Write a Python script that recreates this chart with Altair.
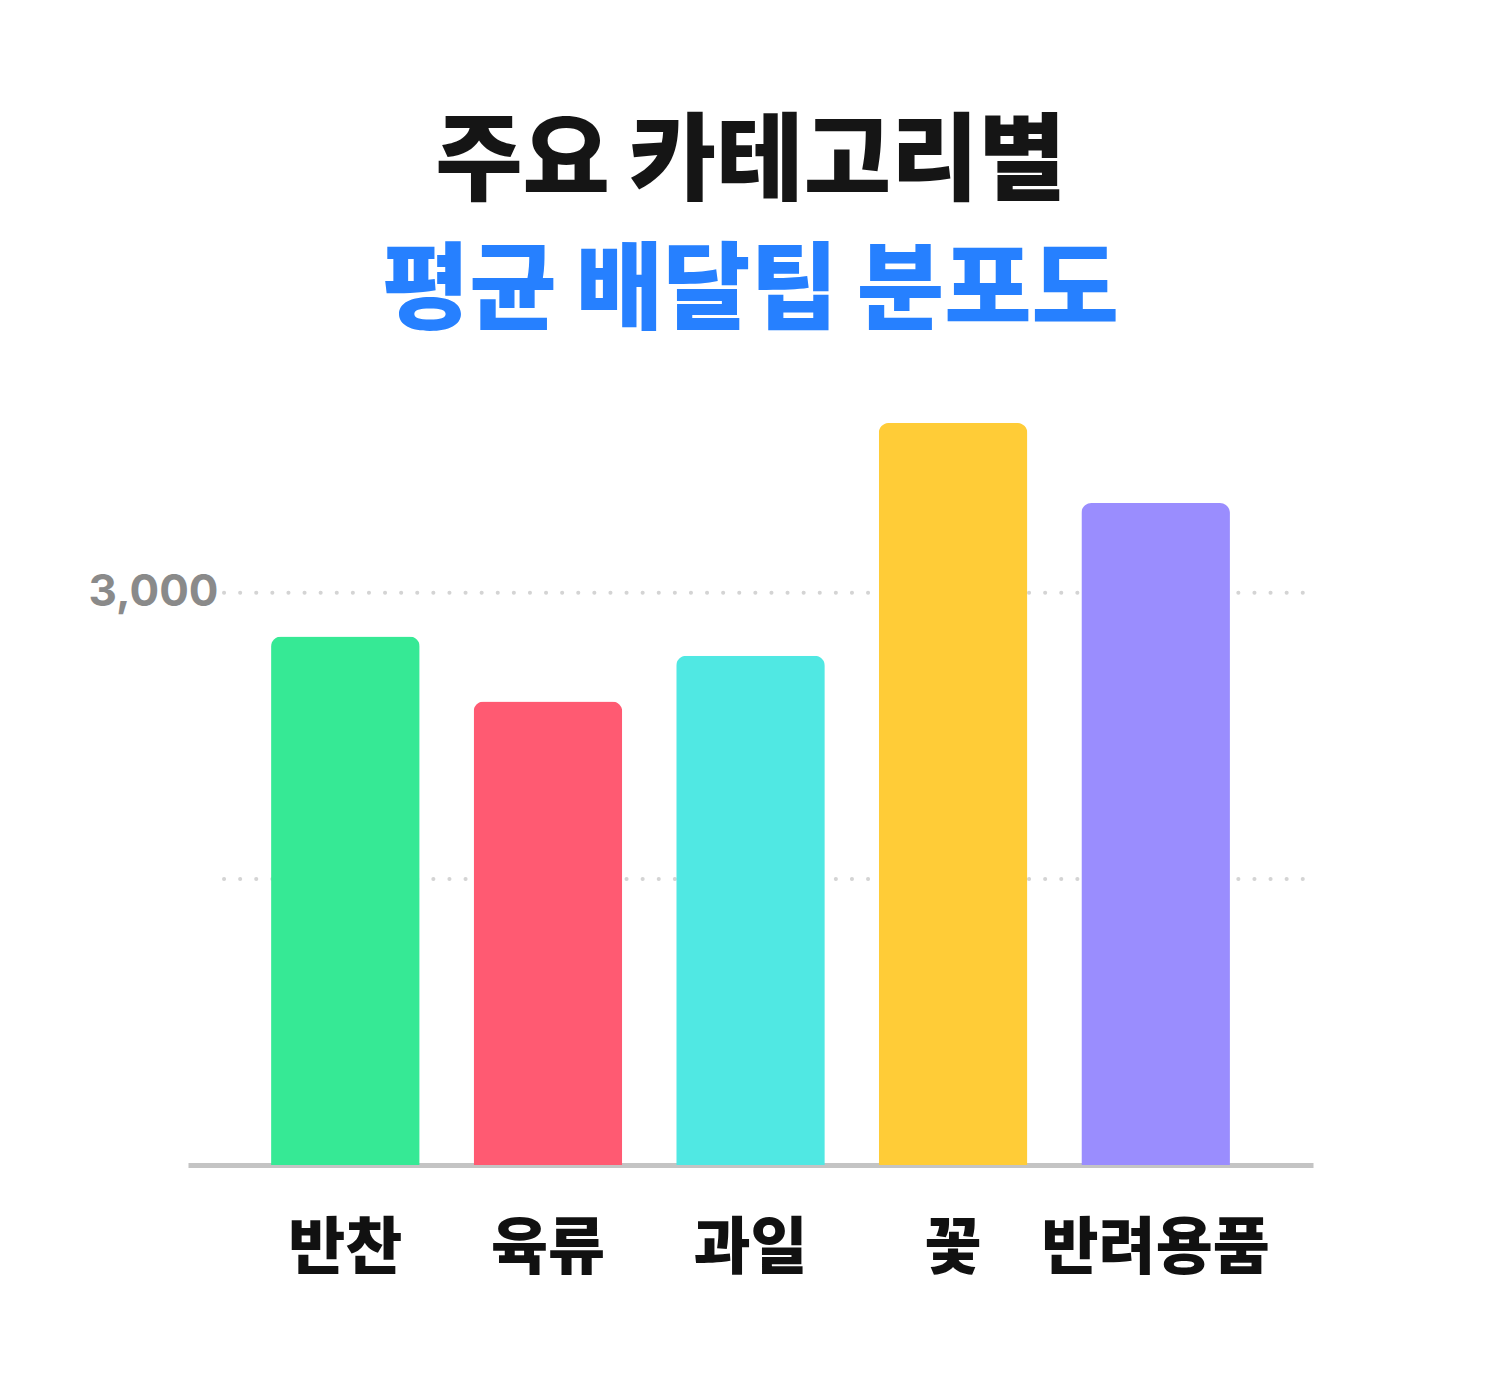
import altair as alt
import pandas as pd

categories = ["반찬", "육류", "과일", "꽃", "반려용품"]
avg_tip = [2770, 2430, 2670, 3890, 3470]
bar_colors = ["#36E995", "#FF5A72", "#50E8E3", "#FFCC37", "#9A8DFE"]
grid_values = [1500, 3000]

FONT = "Inter, Noto Sans CJK KR"

df = pd.DataFrame({"category": categories, "tip": avg_tip})
grid_df = pd.DataFrame({"v": grid_values})

y_scale = alt.Scale(domain=[0, 4000], nice=False)

grid = alt.Chart(grid_df).mark_rule(
    color="#D4D4D4", strokeWidth=4, strokeDash=[0.1, 16], strokeCap="round"
).encode(
    y=alt.Y("v:Q", scale=y_scale),
    x=alt.value(36),
    x2=alt.value(1116),
)

bars = alt.Chart(df).mark_bar(
    cornerRadiusTopLeft=10, cornerRadiusTopRight=10
).encode(
    x=alt.X(
        "category:N",
        sort=categories,
        scale=alt.Scale(paddingInner=0.2665, paddingOuter=0.41),
        axis=alt.Axis(
            title=None, labelAngle=0, ticks=False, labelLimit=0,
            labelFont=FONT, labelFontSize=62, labelFontWeight=900,
            labelColor="#111111", labelPadding=54,
            domainColor="#C4C4C4", domainWidth=5,
        ),
    ),
    y=alt.Y(
        "tip:Q", scale=y_scale,
        axis=alt.Axis(
            title=None, values=[3000], grid=False, domain=False, ticks=False,
            tickSize=0, labelPadding=0, offset=-30,
            labelExpr="datum.value == 3000 ? '3,000' : ''",
            labelFont=FONT, labelFontSize=44, labelFontWeight="bold",
            labelColor="#8A8A8A",
        ),
    ),
    color=alt.Color("category:N", sort=categories,
                    scale=alt.Scale(domain=categories, range=bar_colors),
                    legend=None),
)

chart = alt.layer(grid, bars).properties(
    width=1125,
    height=763,
    background="white",
    autosize=alt.AutoSizeParams(type="none"),
    padding={"left": 180, "top": 394, "right": 170, "bottom": 200},
    title=alt.TitleParams(
        text="주요 카테고리별",
        subtitle="평균 배달팁 분포도",
        font=FONT, fontSize=95, fontWeight=900, color="#151515",
        subtitleFont=FONT, subtitleFontSize=95, subtitleFontWeight=900,
        subtitleColor="#2680FF", subtitlePadding=34,
        anchor="middle", offset=60,
    ),
).configure_view(strokeWidth=0)

chart.save("out.html", embed_options={"renderer": "svg", "actions": False})
